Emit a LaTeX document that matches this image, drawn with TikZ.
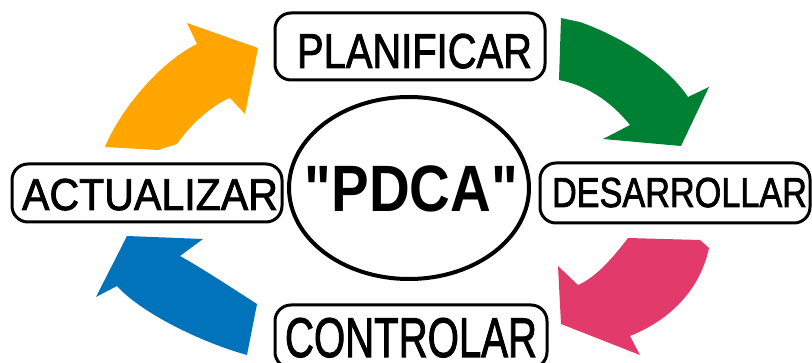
\documentclass[tikz,border=0pt]{standalone}
\usepackage{fontspec}
\setmainfont{Liberation Sans}
\newfontfamily\heavyfont[FakeBold=2]{Liberation Sans}
\newfontfamily\pdcafont[Ligatures=TeXOff]{Liberation Sans Bold}
\usetikzlibrary{shapes.geometric}
\definecolor{corange}{RGB}{255,165,0}
\definecolor{cgreen}{RGB}{0,128,50}
\definecolor{cpink}{RGB}{227,58,108}
\definecolor{cblue}{RGB}{0,115,186}
\tikzset{
  stagebox/.style={draw=black, line width=3pt, rounded corners=16pt, inner sep=0pt, fill=white},
  stagelabel/.style={anchor=base, inner sep=0pt, text=black},
}
\begin{document}
\begin{tikzpicture}[x=1pt,y=-1pt]
\useasboundingbox (0,0) rectangle (812,363);
\fill[white] (0,0) rectangle (812,363);

% arrows
\fill[corange] (105,147) .. controls (120,110) and (160,62) .. (197,44) -- (187,23) -- (258,48) -- (245,114) -- (230,98) .. controls (212,105) and (190,125) .. (177,144) -- (158,150) -- cycle;
\fill[cgreen] (561,18) -- (580,22) .. controls (630,40) and (670,70) .. (688,97) -- (709,87) -- (681,146) -- (603,139) -- (630,125) .. controls (610,100) and (585,85) .. (559,80) -- cycle;
\fill[cpink] (628,238) -- (700,240) -- (709,248) .. controls (700,290) and (670,320) .. (630,336) -- (640,355) -- (561,324) -- (558,266) -- (578,285) .. controls (597,277) and (615,255) .. (628,238) -- cycle;
\fill[cblue] (257,304) -- (247,355) .. controls (200,342) and (140,312) .. (117,286) -- (96,297) -- (127,236) -- (203,239) -- (180,256) .. controls (205,270) and (235,290) .. (257,304) -- cycle;

% boxes
\node[stagebox, minimum width=270pt, minimum height=67pt] (plan) at (410,46.5) {};
\node[stagebox, minimum width=270pt, minimum height=58pt] (act) at (147,193) {};
\node[stagebox, minimum width=270pt, minimum height=60pt] (des) at (675,193) {};
\node[stagebox, minimum width=272pt, minimum height=63pt] (con) at (411,336.5) {};
\node[draw=black, line width=4pt, ellipse, fill=white, minimum width=240pt, minimum height=182pt, inner sep=0pt] (pdca) at (409,188) {};

% labels
\node[stagelabel] (planT) at (414.5,68) {\heavyfont\fontsize{49pt}{49pt}\selectfont\scalebox{0.814}[1]{PLANIFICAR}};
\node[stagelabel] (actT) at (150,210) {\heavyfont\fontsize{44.7pt}{44.7pt}\selectfont\scalebox{0.92}[1]{ACTUALIZAR}};
\node[stagelabel] (desT) at (679.5,207) {\heavyfont\fontsize{41.9pt}{41.9pt}\selectfont\scalebox{0.817}[1]{DESARROLLAR}};
\node[stagelabel] (conT) at (411,357) {\heavyfont\fontsize{55.9pt}{55.9pt}\selectfont\scalebox{0.718}[1]{CONTROLAR}};
\node[stagelabel] (pdcaT) at (411.5,212) {\pdcafont\fontsize{65.6pt}{65.6pt}\selectfont\scalebox{0.86}[1]{"PDCA"}};
\end{tikzpicture}
\end{document}
